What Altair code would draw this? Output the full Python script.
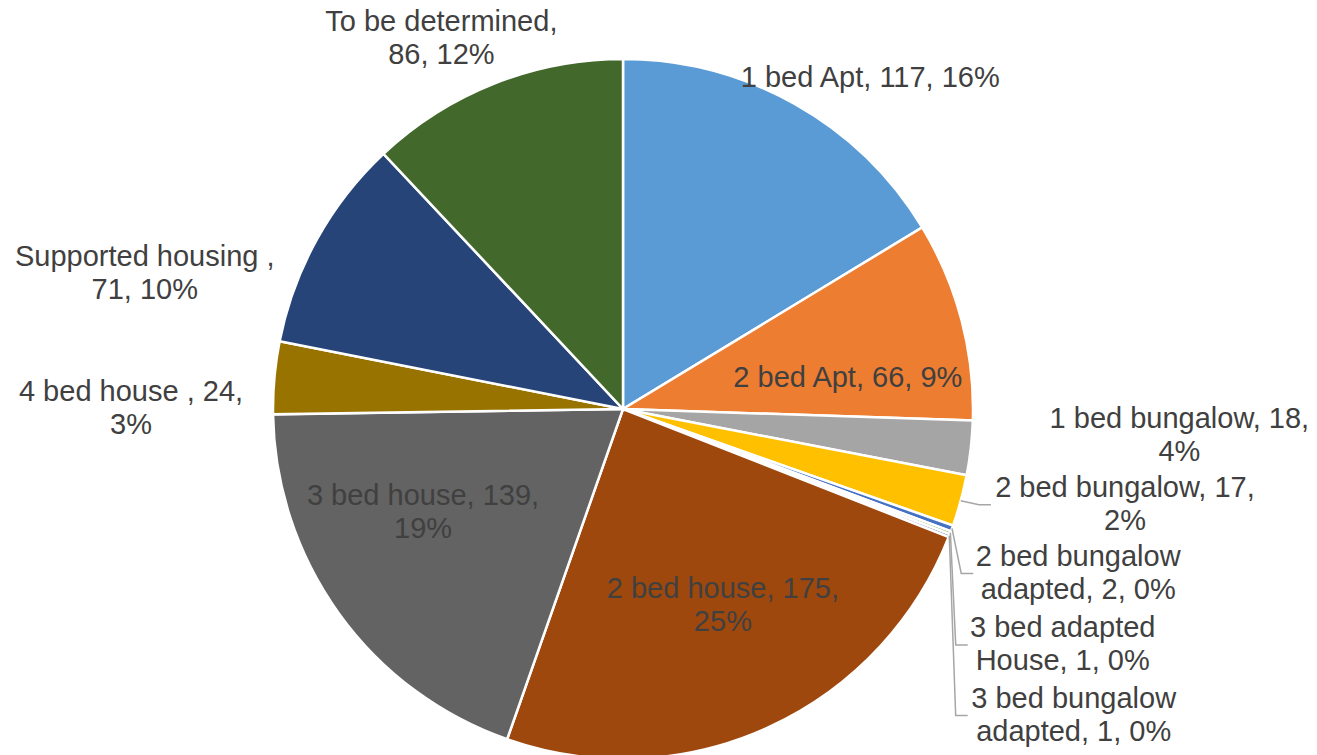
import math
import altair as alt
import pandas as pd

# ---- data ----
categories = ["1 bed Apt", "2 bed Apt", "1 bed bungalow", "2 bed bungalow",
              "2 bed bungalow adapted", "3 bed adapted House", "3 bed bungalow adapted",
              "2 bed house", "3 bed house", "4 bed house ", "Supported housing ",
              "To be determined"]
values = [117, 66, 18, 17, 2, 1, 1, 175, 139, 24, 71, 86]
label_texts = [
    "1 bed Apt, 117, 16%",
    "2 bed Apt, 66, 9%",
    "1 bed bungalow, 18,\n4%",
    "2 bed bungalow, 17,\n2%",
    "2 bed bungalow\nadapted, 2, 0%",
    "3 bed adapted\nHouse, 1, 0%",
    "3 bed bungalow\nadapted, 1, 0%",
    "2 bed house, 175,\n25%",
    "3 bed house, 139,\n19%",
    "4 bed house , 24,\n3%",
    "Supported housing ,\n71, 10%",
    "To be determined,\n86, 12%",
]

# ---- styles ----
colors = ["#5B9BD5", "#ED7D31", "#A5A5A5", "#FFC000", "#4472C4", "#70AD47",
          "#264478", "#9E480E", "#636363", "#997300", "#264478", "#43682B"]
CX, CY, R = 615, 401, 350
LH = 33
label_angle_offset = [7.4, 6.8, -3.7, -4.4, -0.1, 7.5, 13.0, -2.4, 8.5, -5.1, -13.2, -4.5]
label_dist = [413, 227, 557, 511, 484, 499, 545, 220, 225, 492, 497, 413]
leader_half_width = {3: 132, 4: 103, 5: 93, 6: 104}

total = sum(values)
rows, lab_rows, lead_rows = [], [], []
cum = 0
for i, (c, v) in enumerate(zip(categories, values)):
    mid = (cum + v / 2) / total * 360
    cum += v
    rows.append({"cat": c, "value": v, "idx": i})
    a = math.radians(mid + label_angle_offset[i])
    lx = CX + label_dist[i] * math.sin(a)
    ly = CY - label_dist[i] * math.cos(a)
    n_lines = label_texts[i].count("\n") + 1
    lab_rows.append({"text": label_texts[i], "lx": lx, "ly": ly - (n_lines - 1) * LH / 2})
    if i in leader_half_width:
        m = math.radians(mid)
        sx, sy = CX + R * math.sin(m), CY - R * math.cos(m)
        ex = lx - leader_half_width[i] - 2
        pts = [(sx, sy), (ex - 12, ly), (ex, ly)]
        for k, (px, py) in enumerate(pts):
            lead_rows.append({"g": i, "k": k, "px": px, "py": py})

df = pd.DataFrame(rows)
labels = pd.DataFrame(lab_rows)
leaders = pd.DataFrame(lead_rows)

pie = alt.Chart(df).mark_arc(outerRadius=R, stroke="white", strokeWidth=2.5).encode(
    theta=alt.Theta("value:Q", stack=True),
    color=alt.Color("cat:N", scale=alt.Scale(domain=categories, range=colors), legend=None),
    order=alt.Order("idx:Q"),
    x=alt.value(CX),
    y=alt.value(CY),
)

lines = alt.Chart(leaders).mark_line(color="#A6A6A6", strokeWidth=1.5).encode(
    x=alt.X("px:Q", scale=None),
    y=alt.Y("py:Q", scale=None),
    detail="g:N",
    order="k:Q",
)

text = alt.Chart(labels).mark_text(
    font="Liberation Sans", fontSize=29, color="#404040", align="center",
    baseline="middle", lineBreak="\n", lineHeight=LH,
).encode(
    x=alt.X("lx:Q", scale=None),
    y=alt.Y("ly:Q", scale=None),
    text="text:N",
)

chart = alt.layer(pie, lines, text).properties(
    width=1301, height=747, padding=0, autosize="none",
).configure_view(stroke=None)

chart.save("out.html", embed_options={"renderer": "svg", "actions": False})
